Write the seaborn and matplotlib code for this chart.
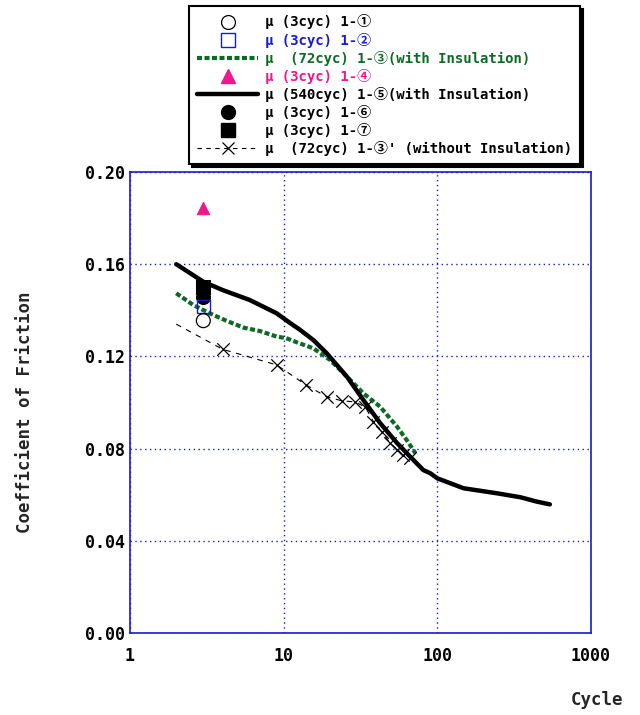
import matplotlib
matplotlib.use("Agg")
import matplotlib.pyplot as plt
import numpy as np
import pandas as pd
import seaborn as sns
from matplotlib.lines import Line2D
from matplotlib.ticker import FixedLocator, NullLocator

# data (cycle, coefficient of friction)
cyc5 = [2, 3, 4, 6, 9, 11, 12.8, 15.6, 19.1, 25.8, 33, 42.4, 54.7, 70, 81, 90, 100, 148, 245, 347, 444, 540]
mu5 = [0.160, 0.1524, 0.1488, 0.1445, 0.1387, 0.1345, 0.1315, 0.1271, 0.1213, 0.1112, 0.1011,
       0.0911, 0.0824, 0.075, 0.0707, 0.0693, 0.0671, 0.0628, 0.0606, 0.0589, 0.0570, 0.0558]

cyc3 = [2, 2.58, 3.3, 4.26, 5.47, 7.0, 9.0, 10.4, 12.2, 15.6, 20.1, 25.8, 33, 42.4, 54.7, 63.2, 72]
mu3 = [0.1474, 0.1423, 0.1387, 0.1354, 0.1325, 0.1310, 0.1286, 0.1279, 0.1261, 0.1235, 0.1184,
       0.1112, 0.1040, 0.0982, 0.0895, 0.0837, 0.0780]

cyc3b = [2, 4, 9, 14, 19, 24, 29, 34, 38.4, 43.5, 49.5, 55, 59.6, 66.5]
mu3b = [0.134, 0.1231, 0.1163, 0.1076, 0.1025, 0.1007, 0.1003, 0.0980, 0.0917, 0.0873,
        0.0823, 0.0794, 0.0772, 0.0758]

pt_cyc = 3
mu1 = 0.1355
mu2 = 0.1416
mu4 = 0.1844
mu6 = 0.1459
mu7 = 0.1499

labels = ["μ (3cyc) 1-①", "μ (3cyc) 1-②", "μ  (72cyc) 1-③(with Insulation)", "μ (3cyc) 1-④",
          "μ (540cyc) 1-⑤(with Insulation)", "μ (3cyc) 1-⑥", "μ (3cyc) 1-⑦",
          "μ  (72cyc) 1-③' (without Insulation)"]

green = "#0d6a24"
pink = "#f0168c"
blue = "#1a1acc"
fam = ["DejaVu Sans Mono", "Noto Sans CJK JP"]

sns.set_style("white")
plt.rcParams["font.family"] = fam
plt.rcParams["font.weight"] = "bold"

fig = plt.figure(figsize=(6.4, 7.15), dpi=100)
ax = fig.add_axes([130/640, 1-633/715, 461/640, 461/715])

df3b = pd.DataFrame({"c": cyc3b, "m": mu3b})
sns.lineplot(data=df3b, x="c", y="m", ax=ax, color="k", lw=0.8, sort=False,
             linestyle=(0, (5, 5)))
sns.scatterplot(data=df3b.iloc[1:], x="c", y="m", ax=ax, marker="x", s=80, color="k",
                linewidth=0.9, zorder=3)

df3 = pd.DataFrame({"c": cyc3, "m": mu3})
sns.lineplot(data=df3, x="c", y="m", ax=ax, color=green, lw=3.0, sort=False,
             linestyle=(0, (1.2, 0.6)))

df5 = pd.DataFrame({"c": cyc5, "m": mu5})
sns.lineplot(data=df5, x="c", y="m", ax=ax, color="k", lw=3.2, sort=False)

sns.scatterplot(x=[pt_cyc], y=[mu7], ax=ax, marker="s", s=90, color="k", edgecolor="k", zorder=5)
sns.scatterplot(x=[pt_cyc], y=[mu6], ax=ax, marker="o", s=100, color="k", edgecolor="k", zorder=5)
sns.scatterplot(x=[pt_cyc], y=[mu2], ax=ax, marker="s", s=90, facecolor="none", edgecolor=blue,
                linewidth=1.0, zorder=6)
sns.scatterplot(x=[pt_cyc], y=[mu1], ax=ax, marker="o", s=100, facecolor="none", edgecolor="k",
                linewidth=0.9, zorder=6)
sns.scatterplot(x=[pt_cyc], y=[mu4], ax=ax, marker="^", s=80, color=pink, edgecolor=pink, zorder=6)

ax.set_xscale("log")
ax.set_xlim(1, 1000)
ax.set_ylim(0, 0.2)
ax.xaxis.set_major_locator(FixedLocator([1, 10, 100, 1000]))
ax.xaxis.set_minor_locator(NullLocator())
ax.set_xticklabels(["1", "10", "100", "1000"])
yt = [0, 0.04, 0.08, 0.12, 0.16, 0.20]
ax.set_yticks(yt)
ax.set_yticklabels([f"{v:.2f}" for v in yt])
ax.tick_params(direction="in", colors=blue, labelcolor="k", labelsize=12, length=4, width=1)
ax.tick_params(axis="x", pad=10)
ax.grid(True, color=blue, ls=(0, (1, 2.5)), lw=1.0)
for s in ax.spines.values():
    s.set_color(blue)
    s.set_linewidth(1.2)
    s.set_visible(True)
ax.set_xlabel("")
ax.set_ylabel("")
fig.text(25/640, 1-412/715, "Coefficient of Friction", rotation=90, ha="center", va="center",
         fontsize=12.5, fontweight="bold")
fig.text(597/640, 1-700/715, "Cycle", ha="center", va="center", fontsize=12.5, fontweight="bold")

handles = [
    Line2D([], [], ls="none", marker="o", ms=10, mfc="none", mec="k", mew=0.9),
    Line2D([], [], ls="none", marker="s", ms=9.5, mfc="none", mec=blue, mew=1.0),
    Line2D([], [], color=green, lw=3.0, ls=(0, (1.2, 0.6))),
    Line2D([], [], ls="none", marker="^", ms=9.5, color=pink),
    Line2D([], [], color="k", lw=3.2),
    Line2D([], [], ls="none", marker="o", ms=10, color="k"),
    Line2D([], [], ls="none", marker="s", ms=9.5, color="k"),
    Line2D([], [], color="k", lw=0.8, ls=(0, (4, 4)), marker="x", ms=9, mew=0.9),
]
leg = fig.legend(handles, labels, loc="upper left", bbox_to_anchor=(189/640, 1-6/715),
                 frameon=True, fancybox=False, handlelength=4.3, handletextpad=0.5,
                 labelspacing=0.22, borderpad=0.6, borderaxespad=0,
                 shadow={"color": "k", "alpha": 1, "ox": 2, "oy": -2},
                 prop={"family": fam, "weight": "bold", "size": 10.1})
leg.get_frame().set_edgecolor("k")
leg.get_frame().set_linewidth(1.5)
txtcolors = ["k", blue, green, pink, "k", "k", "k", "k"]
for t, c in zip(leg.get_texts(), txtcolors):
    t.set_color(c)

fig.savefig("out.png", dpi=100)
